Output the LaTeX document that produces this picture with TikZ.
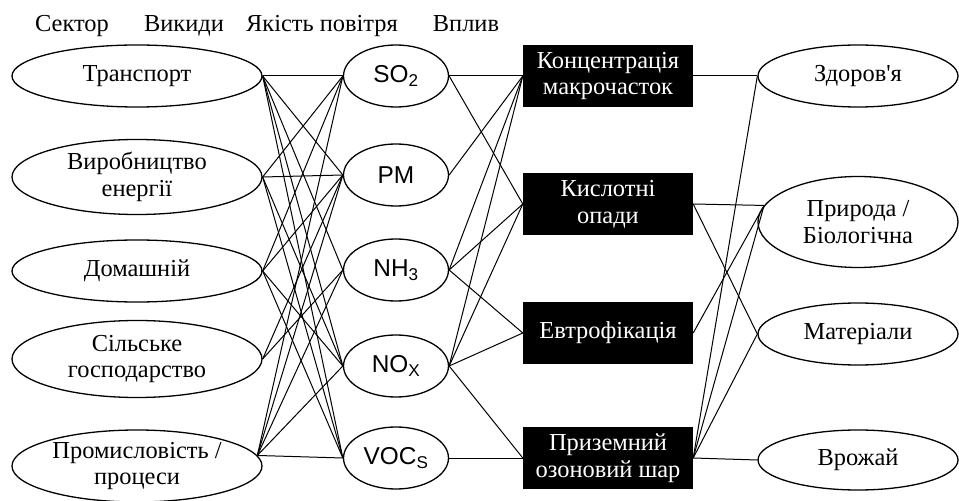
\documentclass[tikz,border=0pt]{standalone}
\usepackage{fontspec}
\setmainfont{Liberation Serif}
\newfontfamily\arialfont{Liberation Sans}
\usetikzlibrary{shapes.geometric}

\begin{document}
\begin{tikzpicture}[x=1bp, y=-1bp,
    every node/.style={font=\fontsize{24.5}{27}\selectfont},
    every label/.style={align=center},
    sector/.style={draw, line width=1.3bp, ellipse, minimum width=250bp, minimum height=62bp, inner sep=0pt},
    gas/.style={draw, line width=1.3bp, ellipse, minimum width=105bp, minimum height=62bp, inner sep=0pt, font=\arialfont\fontsize{24.5}{27}\selectfont},
    impact/.style={fill=black, text=white, minimum width=170bp, minimum height=62bp, inner sep=0pt, align=center},
    effect/.style={draw, line width=1.3bp, ellipse, minimum width=200bp, minimum height=62bp, inner sep=0pt},
    link/.style={line width=1bp}]
\useasboundingbox (0,0) rectangle (959,501);
% Draw column titles
\node[anchor=base] (hsector) at (72,32) {Сектор};
\node[anchor=base] (hemis) at (184,32) {Викиди};
\node[anchor=base] (hair) at (322,32) {Якість повітря};
\node[anchor=base] (himpact) at (466,32) {Вплив};
% Draw sectors
\node[sector, label=center:{Транспорт}] (trans) at (137,76) {};
\node[sector, minimum height=75bp, label=center:{Виробництво\\енергії}] (energy) at (137,177) {};
\node[sector, label=center:{Домашній}] (home) at (137,271) {};
\node[sector, minimum height=77bp, label=center:{Сільське\\господарство}] (agri) at (137,359) {};
\node[sector, minimum height=72bp, label=center:{Промисловість /\\процеси}] (industry) at (137,466) {};
% Draw emissions
\node[gas] (so2) at (396,76) {SO\textsubscript{2}};
\node[gas] (pm) at (396,175) {PM};
\node[gas] (nh3) at (396,270) {NH\textsubscript{3}};
\node[gas] (nox) at (396,366) {NO\textsubscript{X}};
\node[gas] (voc) at (396,458) {VOC\textsubscript{S}};
% Draw impacts
\node[impact] (conc) at (608,76) {Концентрація\\макрочасток};
\node[impact] (acid) at (608,204) {Кислотні\\опади};
\node[impact] (eutro) at (608,333) {Евтрофікація};
\node[impact] (ozone) at (608,458) {Приземний\\озоновий шар};
% Draw effects
\node[effect, label=center:{Здоров\textquotesingle я}] (health) at (858,76) {};
\node[effect, minimum height=91bp, label=center:{Природа /\\Біологічна}] (nature) at (858,222) {};
\node[effect, label=center:{Матеріали}] (material) at (858,334) {};
\node[effect, minimum height=60bp, label=center:{Врожай}] (crops) at (858,460) {};
% Draw sector links
\foreach \e in {so2,pm,nh3,nox,voc}
    \draw[link] (trans.east) -- (\e.west);
\foreach \e in {so2,pm,nox,voc}
    \draw[link] (energy.east) -- (\e.west);
\foreach \e in {so2,pm,nox,voc}
    \draw[link] (home.east) -- (\e.west);
\foreach \e in {pm,nh3}
    \draw[link] (agri.east) -- (\e.west);
\foreach \e in {so2,pm,nh3,nox,voc}
    \draw[link] (industry.5) -- (\e.west);
% Draw emission links
\foreach \g/\i in {so2/conc,so2/acid,pm/conc,nh3/conc,nh3/acid,nh3/eutro,nox/conc,nox/acid,nox/eutro,nox/ozone,voc/ozone}
    \draw[link] (\g.east) -- (\i.west);
% Draw effect links
\foreach \i/\f in {conc/health,acid/material,ozone/health,ozone/material,ozone/crops}
    \draw[link] (\i.east) -- (\f.west);
\foreach \i in {acid,eutro,ozone}
    \draw[link] (\i.east) -- (nature.170);
\end{tikzpicture}
\end{document}
